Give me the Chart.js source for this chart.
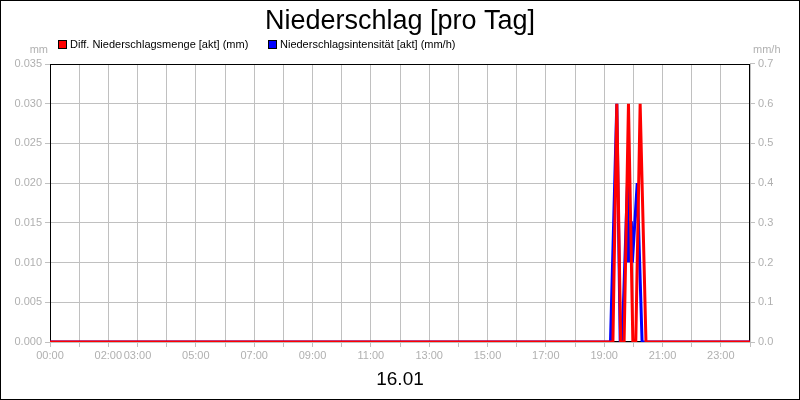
<!DOCTYPE html>
<html>
<head>
<meta charset="utf-8">
<script src="https://cdn.jsdelivr.net/npm/chart.js@4"></script>
<style>
html,body{margin:0;padding:0;background:#fff;}
#wrap{width:800px;height:400px;}
</style>
</head>
<body>
<div id="wrap"><canvas id="c" width="800" height="400"></canvas></div>
<script>
const chartTitle = "Niederschlag [pro Tag]";
const dateLabel = "16.01";
const redLabel = "Diff. Niederschlagsmenge [akt] (mm)";
const blueLabel = "Niederschlagsintensität [akt] (mm/h)";
const leftUnit = "mm";
const rightUnit = "mm/h";

const redTimes  = ["00:00","19:18","19:26","19:34","19:41","19:50","19:59","20:05","20:14","20:26","24:00"];
const redValues = [0, 0, 0.03, 0, 0, 0.03, 0, 0, 0.03, 0, 0];

const blueTimes  = ["00:00","19:13","19:26","19:33","19:37","19:48","19:50","19:52","19:56","19:58","20:08","20:18","24:00"];
const blueValues = [0, 0, 0.6, 0, 0, 0.4, 0.2, 0.3, 0.3, 0.2, 0.4, 0, 0];

const xTickLabels = ["00:00","02:00","03:00","05:00","07:00","09:00","11:00","13:00","15:00","17:00","19:00","21:00","23:00"];

function toHours(t){ const p = t.split(":"); return +p[0] + (+p[1])/60; }
function pts(times, vals){ return times.map((t,i)=>({x: toHours(t), y: vals[i]})); }

const FONT = "'Liberation Sans', Arial, sans-serif";
const GRID = "#c0c0c0";
const TICKC = "#b0b0b0";

const decor = {
  id: 'decor',
  beforeDraw(chart){
    const ctx = chart.ctx;
    ctx.save();
    ctx.fillStyle = "#fff";
    ctx.fillRect(0,0,chart.width,chart.height);
    ctx.restore();
  },
  beforeDatasetsDraw(chart){
    const a = chart.chartArea, ctx = chart.ctx;
    ctx.save();
    ctx.strokeStyle = "#000";
    ctx.lineWidth = 1;
    ctx.strokeRect(Math.round(a.left)+0.5, Math.round(a.top)+0.5, Math.round(a.right-a.left)-1, Math.round(a.bottom-a.top)-1);
    ctx.restore();
  },
  afterDraw(chart){
    const ctx = chart.ctx;
    ctx.save();
    ctx.fillStyle = "#000";
    ctx.font = "27px " + FONT;
    ctx.textAlign = "center";
    ctx.textBaseline = "alphabetic";
    ctx.fillText(chartTitle, 400, 29);
    ctx.font = "11px " + FONT;
    ctx.textAlign = "left";
    const items = [[58, chart.data.datasets[0]], [268, chart.data.datasets[1]]];
    items.forEach(([x, ds])=>{
      ctx.fillStyle = ds.borderColor;
      ctx.fillRect(x, 40, 8, 8);
      ctx.strokeStyle = "#000";
      ctx.lineWidth = 1;
      ctx.strokeRect(x+0.5, 40.5, 8, 8);
      ctx.fillStyle = "#000";
      ctx.fillText(ds.label, x+12, 48);
    });
    ctx.fillStyle = TICKC;
    ctx.textAlign = "right";
    ctx.fillText(leftUnit, 48, 53);
    ctx.textAlign = "left";
    ctx.fillText(rightUnit, 753, 53);
    ctx.fillStyle = "#000";
    ctx.font = "19px " + FONT;
    ctx.textAlign = "center";
    ctx.fillText(dateLabel, 400, 385);
    ctx.strokeStyle = "#000";
    ctx.lineWidth = 1;
    ctx.strokeRect(0.5, 0.5, chart.width-1, chart.height-1);
    ctx.restore();
  }
};

new Chart(document.getElementById('c'), {
  type: 'line',
  data: {
    datasets: [
      { label: redLabel, data: pts(redTimes, redValues), borderColor: "#ff0000", backgroundColor: "#ff0000",
        borderWidth: 3, pointRadius: 0, tension: 0, yAxisID: 'y', fill: false, order: 0 },
      { label: blueLabel, data: pts(blueTimes, blueValues), borderColor: "#0000ff", backgroundColor: "#0000ff",
        borderWidth: 3, pointRadius: 0, tension: 0, yAxisID: 'y1', fill: false, order: 1 }
    ]
  },
  options: {
    responsive: false,
    animation: false,
    devicePixelRatio: 1,
    layout: { padding: { top: 64, left: 0, right: 0, bottom: 0 } },
    plugins: { legend: { display: false }, title: { display: false }, tooltip: { enabled: false } },
    scales: {
      x: {
        type: 'linear', position: 'bottom', min: 0, max: 24,
        grid: { color: GRID, tickLength: 5, tickColor: GRID },
        border: { display: false },
        afterBuildTicks: s => { s.ticks = Array.from({length: 25}, (_, i) => ({value: i})); },
        ticks: {
          autoSkip: false, maxRotation: 0, minRotation: 0, color: TICKC, padding: 2,
          font: { family: FONT, size: 11 },
          callback: v => { const l = String(v).padStart(2,'0') + ":00"; return (v < 24 && xTickLabels.includes(l)) ? l : ''; }
        },
        afterFit: s => { s.height = 58; }
      },
      y: {
        position: 'left', min: 0, max: 0.035,
        grid: { color: GRID, tickLength: 5, tickColor: GRID },
        border: { display: false },
        afterBuildTicks: s => { s.ticks = Array.from({length: 8}, (_, i) => ({value: i*0.005})); },
        ticks: { color: TICKC, padding: 3, font: { family: FONT, size: 11 }, callback: v => (+v).toFixed(3) },
        afterFit: s => { s.width = 50; }
      },
      y1: {
        position: 'right', min: 0, max: 0.7,
        grid: { drawOnChartArea: false, color: GRID, tickLength: 5, tickColor: GRID },
        border: { display: false },
        afterBuildTicks: s => { s.ticks = Array.from({length: 8}, (_, i) => ({value: i*0.1})); },
        ticks: { color: TICKC, padding: 3, font: { family: FONT, size: 11 }, callback: v => (+v).toFixed(1) },
        afterFit: s => { s.width = 50; }
      }
    }
  },
  plugins: [decor]
});
</script>
</body>
</html>
